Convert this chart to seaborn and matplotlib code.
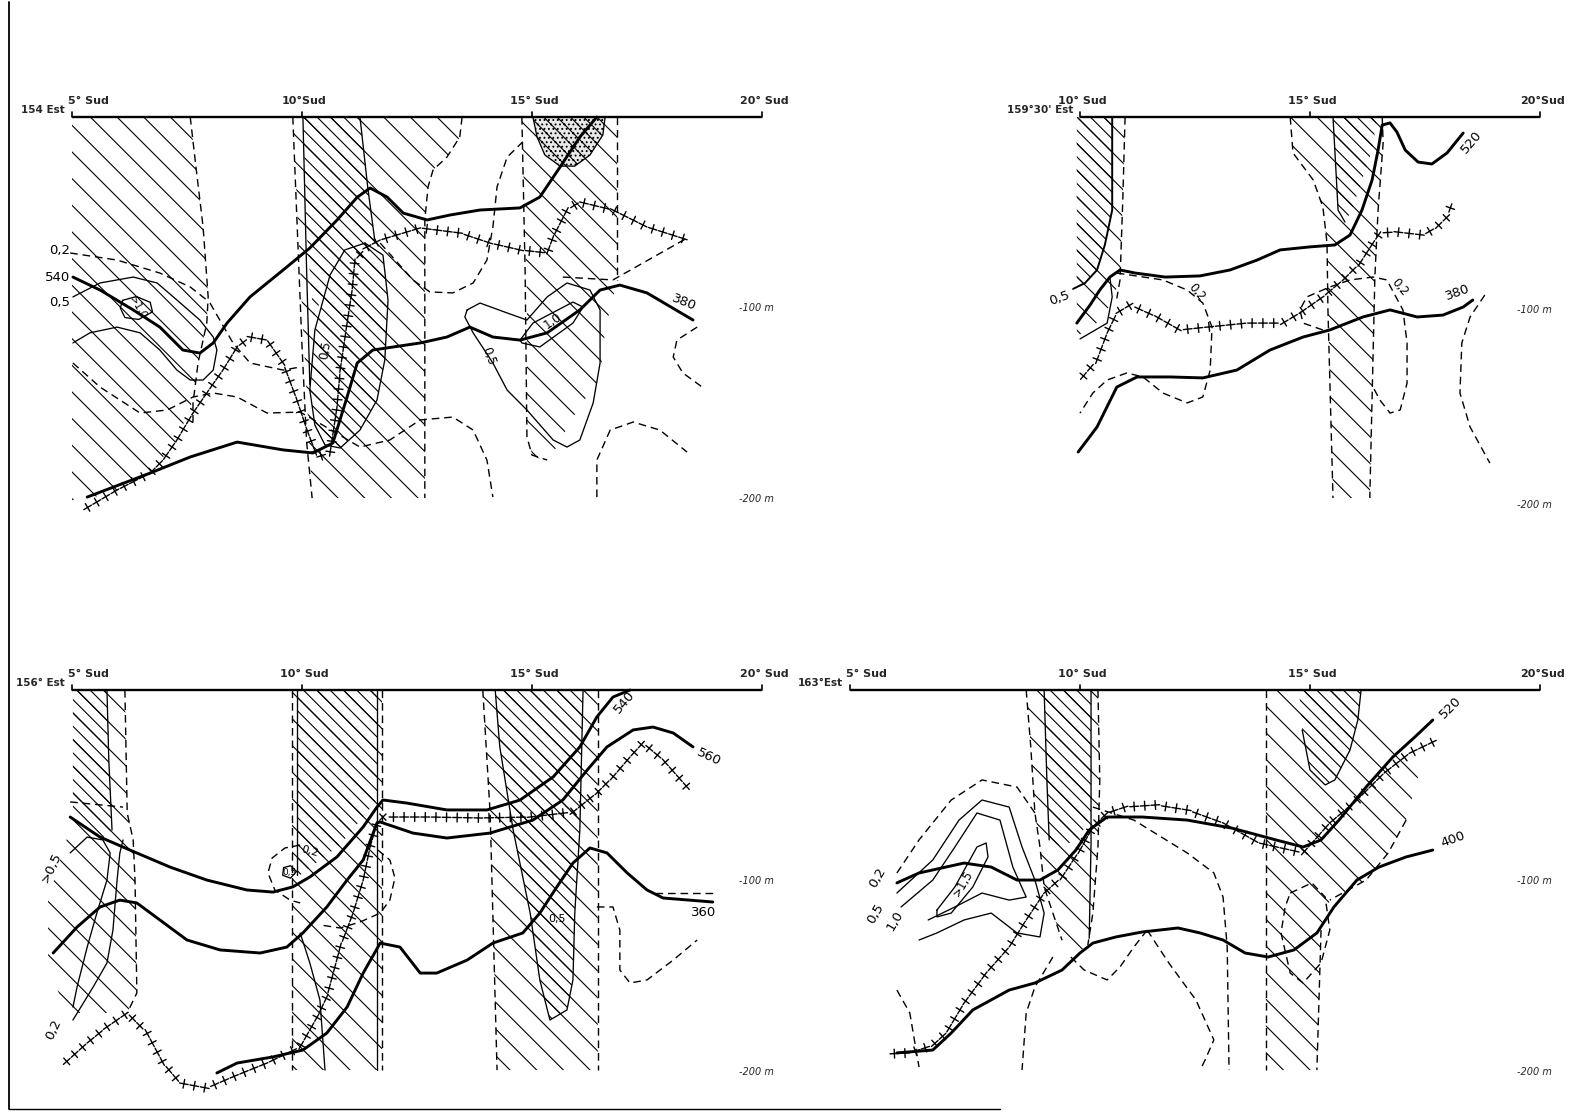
import matplotlib
matplotlib.use("Agg")
import matplotlib.pyplot as plt
import matplotlib.patheffects as pe
from matplotlib.lines import Line2D
import pandas as pd
import seaborn as sns

# ------------------------------------------------------------------
# Section 154° E  (latitude °S, depth m)
# ------------------------------------------------------------------
p1_ticks = [5, 10, 15, 20]
p1_tick_labels = ["5° Sud", "10°Sud", "15° Sud", "20° Sud"]

p1_band_west = [(5.0, 0), (7.57, 0), (7.72, 31.4), (7.85, 57.6), (7.96, 94.2), (7.93, 107.9),
                (7.74, 128.8), (7.63, 148.2), (7.28, 169.1), (6.70, 186.4), (5.98, 195.3),
                (5.28, 200.5), (5.0, 200.5)]
p1_band_west_edge = [(7.57, 0), (7.72, 31.4), (7.85, 57.6), (7.96, 94.2), (7.93, 107.9),
                     (7.74, 128.8), (7.63, 150), (7.63, 162)]
p1_band_mid = [(9.80, 0), (13.48, 0), (13.43, 10.5), (13.15, 21), (12.85, 27.7), (12.74, 36.6),
               (12.67, 53.9), (12.67, 199.5), (10.22, 199.5), (10.0, 100)]
p1_band_mid_w = [(9.80, 0), (9.9, 60), (10.0, 120), (10.1, 170), (10.22, 199.5)]
p1_band_mid_e = [(13.48, 0), (13.43, 10.5), (13.15, 21), (12.85, 27.7), (12.74, 36.6),
                 (12.67, 53.9), (12.67, 199.5)]
p1_core_mid = [(10.02, 0), (11.26, 0), (11.43, 37), (11.59, 66), (11.0, 68), (10.6, 85),
               (10.25, 105), (10.1, 60)]
p1_core_mid_w = [(10.02, 0), (10.1, 80), (10.17, 140)]
p1_core_mid_e = [(11.26, 0), (11.43, 37), (11.59, 66)]
p1_lens = [(10.17, 142.9), (10.28, 111.5), (10.61, 82.7), (10.93, 69.6), (11.37, 66),
           (11.76, 72.3), (11.87, 95.8), (11.80, 127.2), (11.63, 148.2), (11.26, 163.9),
           (10.83, 173.3), (10.50, 171.7), (10.28, 161.3), (10.17, 142.9)]
p1_band_east = [(14.78, 0), (16.85, 0), (16.85, 85.3), (16.59, 111.5), (16.48, 136.1),
                (15.89, 157.1), (15.54, 172.8), (15.33, 179.6), (15.02, 178), (14.89, 167.5),
                (14.89, 95.8)]
p1_band_east_w = [(14.78, 0), (14.85, 80), (14.89, 167.5), (15.0, 177), (15.33, 179.6)]
p1_band_east_e = [(16.85, 0), (16.85, 85.3)]
p1_stipple = [(15.02, 0), (16.59, 0), (16.54, 9.4), (16.26, 19.9), (15.93, 25.7),
              (15.61, 25.7), (15.28, 19.9), (15.11, 10.5), (15.02, 0)]

p1_iso540 = [(5.02, 83.8), (5.61, 90.6), (6.33, 101), (6.91, 110), (7.41, 122), (7.78, 123.6),
             (8.07, 118.3), (8.37, 107.9), (8.87, 94.2), (9.59, 80.1), (10.17, 68.6),
             (10.76, 54), (11.20, 42), (11.48, 37.2), (11.85, 41.9), (12.20, 50.3),
             (12.72, 53.9), (13.22, 51.3), (13.87, 48.7), (14.74, 47.6), (15.17, 41.9),
             (15.61, 26.2), (16.04, 10.5), (16.41, 0)]
p1_iso380 = [(5.33, 199), (6.70, 186.4), (7.57, 178), (8.59, 170.2), (9.59, 174.3),
             (10.24, 175.9), (10.67, 170.7), (10.98, 146.6), (11.20, 128.8), (11.54, 122),
             (12.57, 118.3), (13.15, 115.2), (13.65, 110), (14.15, 115.2), (14.74, 116.8),
             (15.33, 113), (16.04, 101), (16.48, 90.6), (16.91, 88), (17.50, 92.1),
             (18.50, 106.3)]
p1_cross = [(5.24, 205.8), (5.98, 195.3), (6.70, 186.4), (6.98, 179.6), (7.28, 169.1),
            (7.63, 155), (7.93, 144.5), (8.28, 132.5), (8.59, 120.4), (8.87, 115.2),
            (9.24, 116.8), (9.59, 128.8), (9.89, 148.2), (10.11, 163.9), (10.33, 178),
            (10.61, 175.9), (10.76, 152), (10.83, 132.5), (10.98, 107.9), (11.09, 90.6),
            (11.15, 75), (11.41, 68), (11.70, 64.4), (12.57, 58.1), (13.43, 60.7),
            (14.09, 66), (14.74, 69.6), (15.33, 71.2), (15.46, 62.8), (15.76, 48.7),
            (16.04, 44.5), (16.76, 48.7), (17.50, 57.6), (18.39, 64.4)]
p1_dash_a = [(4.96, 71.2), (5.98, 74.9), (6.91, 81.7), (7.57, 89), (7.93, 95.8)]
p1_dash_b = [(8.0, 97.4), (8.50, 118.3), (8.87, 128.8), (9.59, 132.5), (9.96, 130.9)]
p1_dash_c = [(5.02, 128.8), (5.61, 141.4), (6.48, 155), (7.07, 153.4), (7.63, 146.6),
             (8.07, 144.5), (8.59, 146.6), (9.24, 155), (9.96, 154.5), (10.5, 162),
             (11.26, 172.8), (11.91, 169.1), (12.57, 158.6), (13.28, 157.1), (13.72, 163.9),
             (14.02, 179.6), (14.15, 199)]
p1_dash_d = [(11.70, 66), (12.41, 85.3), (12.78, 91.6), (13.28, 92.1), (13.72, 86.9),
             (14.02, 74.9), (14.15, 57.6), (14.24, 36.6), (14.46, 21), (14.80, 13)]
p1_dash_e = [(15.67, 83.8), (16.76, 85.3), (18.37, 63.4)]
p1_dash_f = [(18.59, 110), (18.15, 116.8), (18.07, 125.7), (18.28, 134), (18.70, 141.4)]
p1_dash_g = [(16.41, 199), (16.41, 179.6), (16.70, 163.9), (17.20, 159.7), (17.78, 163.9),
             (18.37, 175.4)]
p1_o05_west = [(5.02, 94.2), (5.61, 86.9), (6.33, 83.8), (6.85, 86.9), (7.28, 95.8),
               (7.78, 106.3), (8.07, 115.2), (8.15, 122), (8.07, 132.5), (7.85, 137.7),
               (7.57, 137.7), (7.28, 132.5), (6.91, 122), (6.48, 113), (5.98, 110),
               (5.39, 113), (5.02, 118.3)]
p1_o10_west = [(6.1, 96), (6.4, 94), (6.7, 97), (6.75, 102), (6.45, 106), (6.15, 105),
               (6.05, 100), (6.1, 96)]
p1_o05_east = [(13.59, 101), (13.87, 97.4), (14.46, 102.6), (14.89, 106.3), (15.33, 94.2),
               (15.76, 86.9), (16.26, 90.6), (16.48, 101), (16.48, 128.8), (16.33, 149.7),
               (16.04, 169.1), (15.76, 172.8), (15.46, 169.1), (14.89, 153.4), (14.46, 143),
               (14.15, 128.8), (13.72, 113), (13.54, 104.7), (13.59, 101)]
p1_o10_east = [(14.74, 116.8), (15.02, 107.9), (15.89, 96.9), (16.11, 99.5), (15.89, 107.9),
               (15.17, 120.4), (14.78, 118.3), (14.74, 116.8)]

# ------------------------------------------------------------------
# Section 159°30' E
# ------------------------------------------------------------------
p2_ticks = [10, 15, 20]
p2_tick_labels = ["10° Sud", "15° Sud", "20°Sud"]

p2_band_west = [(9.93, 0), (10.98, 0), (10.93, 43.5), (10.87, 85.3), (10.65, 98.4),
                (10.43, 106.3), (10.15, 112.6), (9.93, 114.1)]
p2_band_west_e = [(10.98, 0), (10.93, 43.5), (10.87, 85.3), (10.80, 95)]
p2_core_west = [(9.93, 0), (10.70, 0), (10.70, 48.7), (10.54, 67), (10.37, 80.1),
                (10.11, 86.9), (9.93, 89)]
p2_o05_top = [(10.70, 0), (10.70, 48.7), (10.54, 67), (10.37, 80.1), (10.11, 86.9), (9.85, 90)]
p2_o05_arc = [(10.0, 116.2), (10.59, 107.9), (10.70, 94.2), (10.65, 83.8)]
p2_band_east = [(14.57, 0), (16.57, 0), (16.59, 13.6), (16.48, 48.7), (16.41, 83.8),
                (16.30, 199.5), (15.50, 199.5), (15.39, 101), (15.37, 66), (15.28, 47.1),
                (15.07, 33), (14.63, 18.8)]
p2_band_east_w = [(14.57, 0), (14.63, 18.8), (15.07, 33), (15.28, 47.1), (15.37, 66),
                  (15.39, 101), (15.50, 199.5)]
p2_band_east_e = [(16.57, 0), (16.59, 13.6), (16.48, 48.7), (16.41, 83.8), (16.30, 199.5)]
p2_core_east = [(15.50, 0), (16.46, 0), (16.35, 17.3), (16.13, 33), (15.91, 48.7),
                (15.76, 55), (15.61, 48.7), (15.54, 17.3)]
p2_core_east_w = [(15.50, 0), (15.54, 17.3), (15.61, 48.7), (15.76, 55)]

p2_iso520 = [(9.93, 107.9), (10.22, 98.4), (10.43, 90.6), (10.65, 83.8), (10.87, 80.1),
             (11.20, 81.7), (11.85, 83.8), (12.61, 83.2), (13.26, 80.1), (13.85, 74.9),
             (14.35, 69.6), (15.0, 68), (15.54, 67), (15.87, 61.8), (16.13, 48.7),
             (16.35, 33), (16.48, 17.3), (16.57, 4.2), (16.74, 3.1), (16.89, 7.9),
             (17.07, 17.3), (17.35, 23.6), (17.65, 24.6), (17.98, 18.8), (18.33, 8.4)]
p2_iso380 = [(9.96, 175.4), (10.37, 162.3), (10.80, 141.4), (11.24, 136.1), (11.96, 136.1),
             (12.67, 136.6), (13.41, 132.5), (14.13, 122), (14.85, 115.2), (15.43, 111.5),
             (16.15, 104.7), (16.74, 101), (17.33, 104.7), (17.89, 103.7), (18.33, 99.5),
             (18.54, 95.8)]
p2_cross = [(10.0, 137.7), (10.37, 127.2), (10.59, 113.1), (10.80, 102.6), (11.09, 98.4),
            (11.67, 104.7), (12.17, 111.5), (12.76, 110), (13.63, 107.9), (14.41, 107.9),
            (14.78, 102.6), (15.28, 94.2), (15.72, 85.3), (16.09, 76.4), (16.37, 66),
            (16.52, 60.7), (16.89, 60.2), (17.46, 61.8), (17.76, 57.6), (17.98, 52.4),
            (18.09, 45)]
p2_dash_a = [(10.80, 81.7), (11.80, 85.3), (12.33, 90.6), (12.67, 97.4), (12.87, 110),
             (12.83, 132.5), (12.67, 146.6), (12.33, 149.7), (11.80, 144.5), (11.37, 136.1),
             (11.02, 134), (10.59, 137.7), (10.28, 144.5), (10.0, 155)]
p2_dash_b = [(15.28, 111.5), (14.85, 107.9), (14.78, 101), (14.93, 94.2), (15.43, 89),
             (15.87, 85.3), (16.37, 83.8), (16.67, 85.3), (17.02, 101), (17.11, 118.3),
             (17.11, 139.3), (16.96, 153.4), (16.74, 155), (16.52, 148.2), (16.37, 141.4)]
p2_dash_c = [(18.80, 93.2), (18.48, 104.7), (18.30, 118.3), (18.26, 144.5), (18.48, 162.3),
             (18.91, 181.2)]

# ------------------------------------------------------------------
# Section 156° E
# ------------------------------------------------------------------
p3_ticks = [5, 10, 15, 20]
p3_tick_labels = ["5° Sud", "10° Sud", "15° Sud", "20° Sud"]

p3_band_west = [(5.02, 0), (6.15, 0), (6.20, 64.4), (6.33, 78.5), (6.37, 99.5), (6.41, 158.6),
                (6.20, 169.1), (5.50, 169.1), (4.85, 169.1), (4.48, 141.4), (4.48, 110),
                (4.74, 89), (5.02, 68.1)]
p3_band_west_e = [(6.15, 0), (6.20, 64.4), (6.33, 78.5), (6.37, 99.5), (6.41, 158.6),
                  (6.20, 169.1)]
p3_band_west_cap = [(4.96, 58.6), (6.11, 61.3)]
p3_core_west = [(5.02, 0), (5.76, 0), (5.80, 36.6), (5.87, 73.3), (5.61, 78.5), (5.02, 68.1)]
p3_core_west_e = [(5.76, 0), (5.80, 36.6), (5.87, 73.3)]
p3_band_mid = [(9.78, 0), (11.74, 0), (11.74, 199), (9.78, 199)]
p3_band_mid_w = [(9.78, 0), (9.78, 199)]
p3_band_mid_e = [(11.74, 0), (11.74, 199)]
p3_core_mid = [(9.89, 0), (11.63, 0), (11.63, 57.6), (10.83, 81), (9.96, 96.9), (9.89, 96.9)]
p3_core_mid_w = [(9.89, 0), (9.89, 97)]
p3_core_mid_e = [(11.63, 0), (11.63, 199)]
p3_band_east = [(13.93, 0), (16.43, 0), (16.43, 199), (14.24, 199), (14.09, 64.4)]
p3_band_east_w = [(13.93, 0), (14.09, 64.4), (14.24, 199)]
p3_band_east_e = [(16.43, 0), (16.43, 199)]
p3_core_east = [(14.20, 0), (14.30, 29.8), (14.59, 73.3), (14.96, 116.8), (15.17, 151.8),
                (15.39, 172.8), (15.76, 167.5), (15.89, 151.8), (15.93, 116.8), (16.04, 73.3),
                (16.11, 0)]

p3_iso540 = [(4.96, 66.5), (5.61, 77), (6.26, 83.8), (7.13, 92.7), (7.93, 99.5), (8.80, 104.7),
             (9.37, 105.8), (9.80, 103.1), (10.17, 97.9), (10.76, 87.4), (11.33, 71.7),
             (11.63, 61.3), (11.76, 57.6), (12.28, 59.2), (13.15, 62.8), (14.02, 62.8),
             (14.74, 57.6), (15.46, 45.5), (16.04, 29.8), (16.41, 14.1), (16.76, 3.7),
             (17.13, 0)]
p3_iso560 = [(4.59, 137.7), (5.11, 124.1), (5.61, 113.6), (6.04, 110), (6.41, 111.5),
             (6.91, 120.4), (7.50, 130.9), (8.22, 136.1), (9.09, 137.7), (9.67, 134.6),
             (10.02, 127.2), (10.54, 113.6), (10.98, 99.5), (11.33, 89), (11.63, 69.6),
             (11.70, 69.1), (12.41, 74.9), (13.15, 77.5), (14.09, 74.9), (15.02, 68.1),
             (15.67, 57.6), (16.20, 41.9), (16.63, 29.8), (17.20, 20.9), (17.63, 19.4),
             (18.07, 22.5), (18.50, 29.8)]
p3_iso360 = [(8.15, 200.5), (8.59, 195.3), (9.37, 192.1), (10.02, 188.5), (10.54, 179.6),
             (10.98, 166), (11.33, 148.2), (11.70, 132.5), (12.13, 134.6), (12.57, 148.2),
             (12.93, 148.2), (13.59, 141.4), (14.15, 132.5), (14.80, 127.2), (15.17, 116.8),
             (15.54, 103.1), (15.89, 90.6), (16.26, 82.7), (16.63, 85.3), (17.07, 95.8),
             (17.50, 104.7), (17.85, 108.9), (18.93, 111)]
p3_cross = [(4.80, 196.3), (5.33, 184.8), (5.76, 176.4), (6.20, 169.1), (6.63, 179.6),
            (6.98, 195.3), (7.35, 205.8), (7.93, 208.4), (8.59, 201.6), (9.24, 195.3),
            (9.96, 186.9), (10.33, 171.2), (10.54, 160.7), (10.83, 134.6), (11.11, 116.8),
            (11.33, 99.5), (11.48, 82.2), (11.63, 69.6), (11.76, 66.5), (12.78, 66.5),
            (13.87, 67), (14.96, 66.5), (15.89, 63.9), (16.41, 53.9), (16.76, 45.5),
            (17.13, 35.1), (17.41, 27.7), (17.85, 36.6), (18.43, 52.4)]
p3_dash_a = [(9.96, 81.2), (9.63, 82.7), (9.35, 88), (9.26, 95.8), (9.41, 104.7), (9.74, 110),
             (9.96, 111.5)]
p3_dash_b = [(11.65, 83.8), (11.91, 89), (12.02, 98.4), (11.91, 110), (11.70, 116.8),
             (11.26, 121.5), (10.83, 124.6), (10.39, 123)]
p3_dash_c = [(16.41, 113.6), (16.76, 113.6), (16.91, 125.7), (16.91, 146.6), (17.13, 153.4),
             (17.50, 151.8), (18.07, 141.4), (18.59, 130.9)]
p3_dash_d = [(17.67, 106.3), (18.93, 106.3)]
p3_o05_mid = [(9.6, 93), (9.75, 92), (9.88, 95), (9.75, 98.5), (9.58, 97), (9.6, 93)]
p3_o05_west = [(4.96, 85.3), (5.33, 77), (5.67, 78.5), (5.83, 85.3), (5.76, 99.5), (5.54, 116.8),
               (5.33, 134.6), (5.11, 155.5), (5.02, 166)]
p3_o02_west = [(5.02, 172.8), (5.46, 155.5), (5.76, 142.9), (5.89, 125.7), (5.98, 99.5),
               (6.04, 85.3), (6.11, 78.5)]
p3_thin_mid = [(9.96, 127.2), (10.17, 142.9), (10.39, 162.3), (10.50, 199)]

# ------------------------------------------------------------------
# Section 163° E
# ------------------------------------------------------------------
p4_ticks = [5, 10, 15, 20]
p4_tick_labels = ["5° Sud", "10° Sud", "15° Sud", "20°Sud"]

p4_band_west = [(8.83, 0), (10.39, 0), (10.43, 47.1), (10.39, 82.2), (10.28, 116.8),
                (10.17, 133.5), (9.89, 138.7), (9.61, 131), (9.41, 116.8), (9.22, 103.1),
                (9.13, 82.2), (9.02, 64.4), (8.93, 29.8)]
p4_band_west_w = [(8.83, 0), (8.93, 29.8), (9.02, 64.4), (9.13, 82.2), (9.22, 103.1),
                  (9.41, 116.8), (9.61, 131)]
p4_band_west_e = [(10.39, 0), (10.43, 47.1), (10.39, 82.2), (10.28, 116.8), (10.17, 133.5)]
p4_core_west = [(9.22, 0), (10.24, 0), (10.24, 64.4), (10.0, 77), (9.61, 82.2), (9.33, 78.5),
                (9.28, 47.1)]
p4_core_west_w = [(9.22, 0), (9.28, 47.1), (9.33, 78.5)]
p4_core_west_e = [(10.24, 0), (10.24, 80), (10.2, 130)]
p4_band_east = [(14.04, 0), (15.63, 0), (16.22, 12), (16.98, 29.8), (17.37, 43.5),
                (17.09, 68.1), (16.70, 85.3), (16.22, 99.5), (15.43, 110), (15.24, 125.7),
                (15.15, 199), (14.04, 199)]
p4_band_east_w = [(14.04, 0), (14.04, 199)]
p4_band_east_e = [(17.09, 68.1), (16.70, 85.3), (16.22, 99.5), (15.43, 110)]
p4_band_east_e2 = [(15.24, 125.7), (15.15, 199)]
p4_core_east = [(14.76, 0), (16.11, 0), (16.04, 15.7), (15.87, 31.4), (15.54, 47.1),
                (15.33, 49.7), (15.0, 41.9), (14.83, 20.9)]
p4_dash_loop = [(14.57, 106.3), (15.04, 101), (15.33, 108.4), (15.43, 125.7), (15.24, 142.9),
                (14.85, 153.4), (14.57, 148.2), (14.37, 127.2), (14.46, 113.6), (14.57, 106.3)]

p4_iso520 = [(6.02, 101), (6.50, 95.8), (7.48, 90.6), (8.07, 92.7), (8.63, 99.5), (9.13, 99.5),
             (9.52, 94.2), (9.91, 83.8), (10.20, 73.3), (10.59, 66.5), (11.35, 66.5),
             (12.33, 68.1), (13.30, 72.3), (14.26, 78.5), (14.85, 82.2), (15.24, 78.5),
             (15.63, 68.1), (16.22, 50.8), (16.80, 35.1), (17.28, 24.6), (17.67, 15.7)]
p4_iso400 = [(6.02, 190), (6.80, 188.5), (7.20, 179.6), (7.67, 167.5), (8.46, 157.1),
             (9.02, 153.4), (9.61, 146.6), (10.0, 137.7), (10.28, 132.5), (10.78, 129.3),
             (11.35, 126.7), (12.13, 124.6), (12.61, 127.2), (13.11, 130.9), (13.59, 137.7),
             (14.09, 139.8), (14.65, 136.1), (15.15, 127.2), (15.52, 113.6), (16.02, 99.5),
             (16.50, 92.7), (17.09, 87.4), (17.67, 83.8)]
p4_cross = [(5.85, 190.5), (6.3, 190), (6.8, 186), (7.09, 179.6), (7.48, 163.9), (7.96, 148.2),
            (8.46, 134.6), (8.83, 120.4), (9.22, 106.3), (9.61, 97.9), (10.0, 83.8),
            (10.28, 71.7), (10.59, 64.4), (10.98, 61.3), (11.65, 60.2), (12.33, 62.8),
            (13.11, 69.6), (13.89, 80.1), (14.85, 85.3), (15.43, 69.6), (16.02, 57.6),
            (16.61, 43.5), (17.17, 33), (17.76, 26.2)]
p4_dash_o02 = [(6.02, 95.8), (6.50, 78.5), (7.20, 57.6), (7.87, 47.1), (8.63, 50.8), (9.02, 64.4)]
p4_dash_sw = [(6.02, 157.1), (6.30, 169.1), (6.50, 197.4)]
p4_dash_mid = [(9.41, 139.8), (9.02, 155.5), (8.83, 169.1), (8.74, 199)]
p4_dash_dip = [(9.80, 139.8), (10.09, 146.6), (10.59, 151.8), (10.87, 145), (11.17, 134.6),
               (11.46, 125.7)]
p4_dash_long = [(10.28, 61.3), (11.17, 68.1), (12.33, 85.3), (12.91, 95.8), (13.11, 108.4),
                (13.20, 134.6), (13.24, 199)]
p4_dash_v = [(11.46, 125.7), (11.93, 142.9), (12.52, 162.3), (12.91, 183.2), (12.72, 193.7),
             (12.61, 199)]
p4_o05 = [(6.02, 106.3), (6.80, 89), (7.37, 68.1), (7.87, 57.6), (8.46, 61.3), (8.74, 82.2),
          (9.02, 99.5), (9.22, 116.8), (9.13, 129.3), (8.63, 127.2), (8.07, 116.8),
          (7.48, 120.4), (6.89, 127.2), (6.50, 130.9)]
p4_o10 = [(6.11, 113.6), (6.80, 99.5), (7.28, 82.2), (7.76, 64.4), (8.26, 68.1), (8.54, 92.7),
          (8.83, 108.4), (8.46, 110), (7.87, 106.3), (7.28, 113.6), (6.70, 120.4)]
p4_o15 = [(6.89, 115.2), (7.28, 103.1), (7.76, 82.2), (7.96, 80.1), (8.0, 87.4), (7.67, 103.1),
          (7.20, 116.8), (6.89, 118.8), (6.89, 115.2)]

# ------------------------------------------------------------------
# Drawing
# ------------------------------------------------------------------
W, H, DPI = 1582, 1114, 80
S = 100.0 / DPI                    # keeps point sizes at their 100-dpi look

sns.set_theme(style="white")
plt.rcParams["font.family"] = ["DejaVu Sans"]
plt.rcParams["hatch.linewidth"] = 0.8 * S
plt.rcParams["hatch.color"] = "black"

fig = plt.figure(figsize=(W / DPI, H / DPI), dpi=DPI, facecolor="white")

PX_DEG, PX_M = 46.0, 1.91          # figure pixels per degree / per metre
XL = (3.0, 22.0)
YL = (220.0, -40.0)                # depth axis, downward


def section_axes(x5, y0):
    """Axes whose latitude 5° sits at pixel x5 and whose surface sits at pixel y0."""
    left = x5 - (5 - XL[0]) * PX_DEG
    top = y0 + YL[1] * PX_M
    w = (XL[1] - XL[0]) * PX_DEG
    h = (YL[0] - YL[1]) * PX_M
    ax = fig.add_axes([left / W, 1 - (top + h) / H, w / W, h / H])
    ax.set_axis_off()
    ax.patch.set_alpha(0)
    return ax


SPARSE = "\\"
DENSE = "\\\\"

CROSS = [pe.TickedStroke(spacing=7.6 * S, angle=a, length=0.42, linewidth=1.0 * S)
         for a in (0, 90, 180, -90)]

STYLE = {
    "thick": dict(linewidth=2.1 * S),
    "mid": dict(linewidth=1.4 * S),
    "thin": dict(linewidth=0.95 * S),
    "dash": dict(linewidth=1.0 * S, linestyle=(0, (5.5, 3.5))),
    "cross": dict(linewidth=1.0 * S, path_effects=CROSS),
}


def zone(ax, pts, pattern, face="none"):
    lat, dep = zip(*pts)
    ax.fill(lat, dep, facecolor=face, edgecolor="black", linewidth=0, hatch=pattern)


def trace(ax, pts, kind):
    df = pd.DataFrame(pts, columns=["lat", "depth"])
    sns.lineplot(data=df, x="lat", y="depth", sort=False, estimator=None, ax=ax,
                 color="black", legend=False, **STYLE[kind])


def note(ax, lat, dep, s, rot=0, size=9.5, ha="center"):
    ax.text(lat, dep, s, rotation=rot, fontsize=size * S, ha=ha, va="center",
            rotation_mode="anchor", color="black")


def frame(ax, ticks, labels, name, dep100=100, dep200=200):
    ax.plot([ticks[0], ticks[-1]], [0, 0], color="black", lw=1.7 * S, solid_capstyle="butt")
    for t, s in zip(ticks, labels):
        ax.plot([t, t], [0, -2.8], color="black", lw=1.2 * S)
        ax.text(t + (0.35 if t == 5 else 0.05), -6, s, ha="center", va="bottom",
                fontsize=8 * S, fontweight="bold")
    ax.text(ticks[0] - 0.15, -1.2, name, ha="right", va="bottom", fontsize=7.5 * S,
            fontweight="bold")
    ax.text(19.5, dep100, "-100 m", ha="left", va="center", fontsize=7 * S, style="italic")
    ax.text(19.5, dep200, "-200 m", ha="left", va="center", fontsize=7 * S, style="italic")


def finish(ax):
    ax.set_xlim(*XL)
    ax.set_ylim(*YL)
    ax.set_axis_off()


# ---- 154° E ----
ax = section_axes(72, 117)
zone(ax, p1_band_west, SPARSE)
zone(ax, p1_band_mid, SPARSE)
zone(ax, p1_core_mid, DENSE)
zone(ax, p1_lens, DENSE)
zone(ax, p1_band_east, SPARSE)
zone(ax, p1_stipple, "\\\\...", face="#e8e8e8")
for pts in (p1_band_west_edge, p1_band_mid_w, p1_band_mid_e, p1_band_east_w, p1_band_east_e,
            p1_dash_a, p1_dash_b, p1_dash_c, p1_dash_d, p1_dash_e, p1_dash_f, p1_dash_g):
    trace(ax, pts, "dash")
for pts in (p1_core_mid_w, p1_core_mid_e, p1_lens, p1_o05_west, p1_o10_west, p1_o05_east,
            p1_o10_east, p1_stipple):
    trace(ax, pts, "thin")
trace(ax, p1_iso540, "thick")
trace(ax, p1_iso380, "thick")
trace(ax, p1_cross, "cross")
note(ax, 4.95, 70, "0,2", ha="right")
note(ax, 4.95, 84, "540", ha="right")
note(ax, 4.95, 97, "0,5", ha="right")
note(ax, 6.42, 100, ">1,0", rot=-60, size=7.5)
note(ax, 10.5, 122, "0,5", rot=80, size=8.5)
note(ax, 18.3, 97, "380", rot=-22)
note(ax, 14.05, 125, "0,5", rot=-70, size=8.5)
note(ax, 15.46, 107, "1,0", rot=35, size=8.5)
frame(ax, p1_ticks, p1_tick_labels, "154 Est")
finish(ax)

# ---- 159°30' E ----
ax = section_axes(850, 117)
zone(ax, p2_band_west, SPARSE)
zone(ax, p2_core_west, DENSE)
zone(ax, p2_band_east, SPARSE)
zone(ax, p2_core_east, DENSE)
for pts in (p2_band_west_e, p2_band_east_w, p2_band_east_e, p2_dash_a, p2_dash_b, p2_dash_c):
    trace(ax, pts, "dash")
trace(ax, p2_o05_top, "mid")
for pts in (p2_o05_arc, p2_core_east_w):
    trace(ax, pts, "thin")
trace(ax, p2_iso520, "thick")
trace(ax, p2_iso380, "thick")
trace(ax, p2_cross, "cross")
note(ax, 9.55, 95, "0,5", rot=20)
note(ax, 12.54, 92, "0,2", rot=-50, size=8.5)
note(ax, 16.96, 89, "0,2", rot=-50, size=8.5)
note(ax, 18.5, 13, "520", rot=50)
note(ax, 18.2, 92, "380", rot=20)
frame(ax, p2_ticks, p2_tick_labels, "159°30' Est", 101, 203)
finish(ax)

# ---- 156° E ----
ax = section_axes(72, 690)
zone(ax, p3_band_west, SPARSE)
zone(ax, p3_core_west, DENSE)
zone(ax, p3_band_mid, SPARSE)
zone(ax, p3_core_mid, DENSE)
zone(ax, p3_band_east, SPARSE)
zone(ax, p3_core_east, DENSE)
for pts in (p3_band_west_e, p3_band_west_cap, p3_band_mid_w, p3_band_mid_e, p3_band_east_w,
            p3_band_east_e, p3_dash_a, p3_dash_b, p3_dash_c, p3_dash_d):
    trace(ax, pts, "dash")
for pts in (p3_core_west_e, p3_core_mid_w, p3_core_mid_e, p3_core_east, p3_o05_mid,
            p3_o05_west, p3_o02_west, p3_thin_mid):
    trace(ax, pts, "thin")
trace(ax, p3_iso540, "thick")
trace(ax, p3_iso560, "thick")
trace(ax, p3_iso360, "thick")
trace(ax, p3_cross, "cross")
note(ax, 4.55, 93, ">0,5", rot=65)
note(ax, 4.6, 178, "0,2", rot=65)
note(ax, 10.17, 84.5, "0,2", rot=-15, size=8)
note(ax, 9.72, 95.5, "0,5", size=6.5)
note(ax, 15.55, 120, "0,5", size=8)
note(ax, 17.0, 6.5, "540", rot=50)
note(ax, 18.85, 35, "560", rot=-25)
note(ax, 18.72, 116.5, "360")
frame(ax, p3_ticks, p3_tick_labels, "156° Est")
finish(ax)

# ---- 163° E ----
ax = section_axes(850, 690)
zone(ax, p4_band_west, SPARSE)
zone(ax, p4_core_west, DENSE)
zone(ax, p4_band_east, SPARSE)
zone(ax, p4_core_east, DENSE)
for pts in (p4_band_west_w, p4_band_west_e, p4_band_east_w, p4_band_east_e, p4_band_east_e2,
            p4_dash_loop, p4_dash_o02, p4_dash_sw, p4_dash_mid, p4_dash_dip, p4_dash_long,
            p4_dash_v):
    trace(ax, pts, "dash")
for pts in (p4_core_west_w, p4_core_west_e, p4_core_east, p4_o05, p4_o10, p4_o15):
    trace(ax, pts, "thin")
trace(ax, p4_iso520, "thick")
trace(ax, p4_iso400, "thick")
trace(ax, p4_cross, "cross")
note(ax, 5.6, 98, "0,2", rot=60)
note(ax, 5.55, 117, "0,5", rot=60)
note(ax, 5.98, 121, "1,0", rot=60)
note(ax, 7.45, 101, ">1,5", rot=60, size=8.5)
note(ax, 18.05, 9, "520", rot=45)
note(ax, 18.1, 78, "400", rot=20)
frame(ax, p4_ticks, p4_tick_labels, "163°Est")
finish(ax)

# outer border of the plate
fig.add_artist(Line2D([9 / W, 9 / W], [1 - 1109 / H, 1 - 2 / H], color="black", lw=1.3 * S))
fig.add_artist(Line2D([9 / W, 1000 / W], [1 - 1109 / H, 1 - 1109 / H], color="black",
                      lw=1.0 * S))

fig.savefig("out.png", dpi=DPI, facecolor="white")
